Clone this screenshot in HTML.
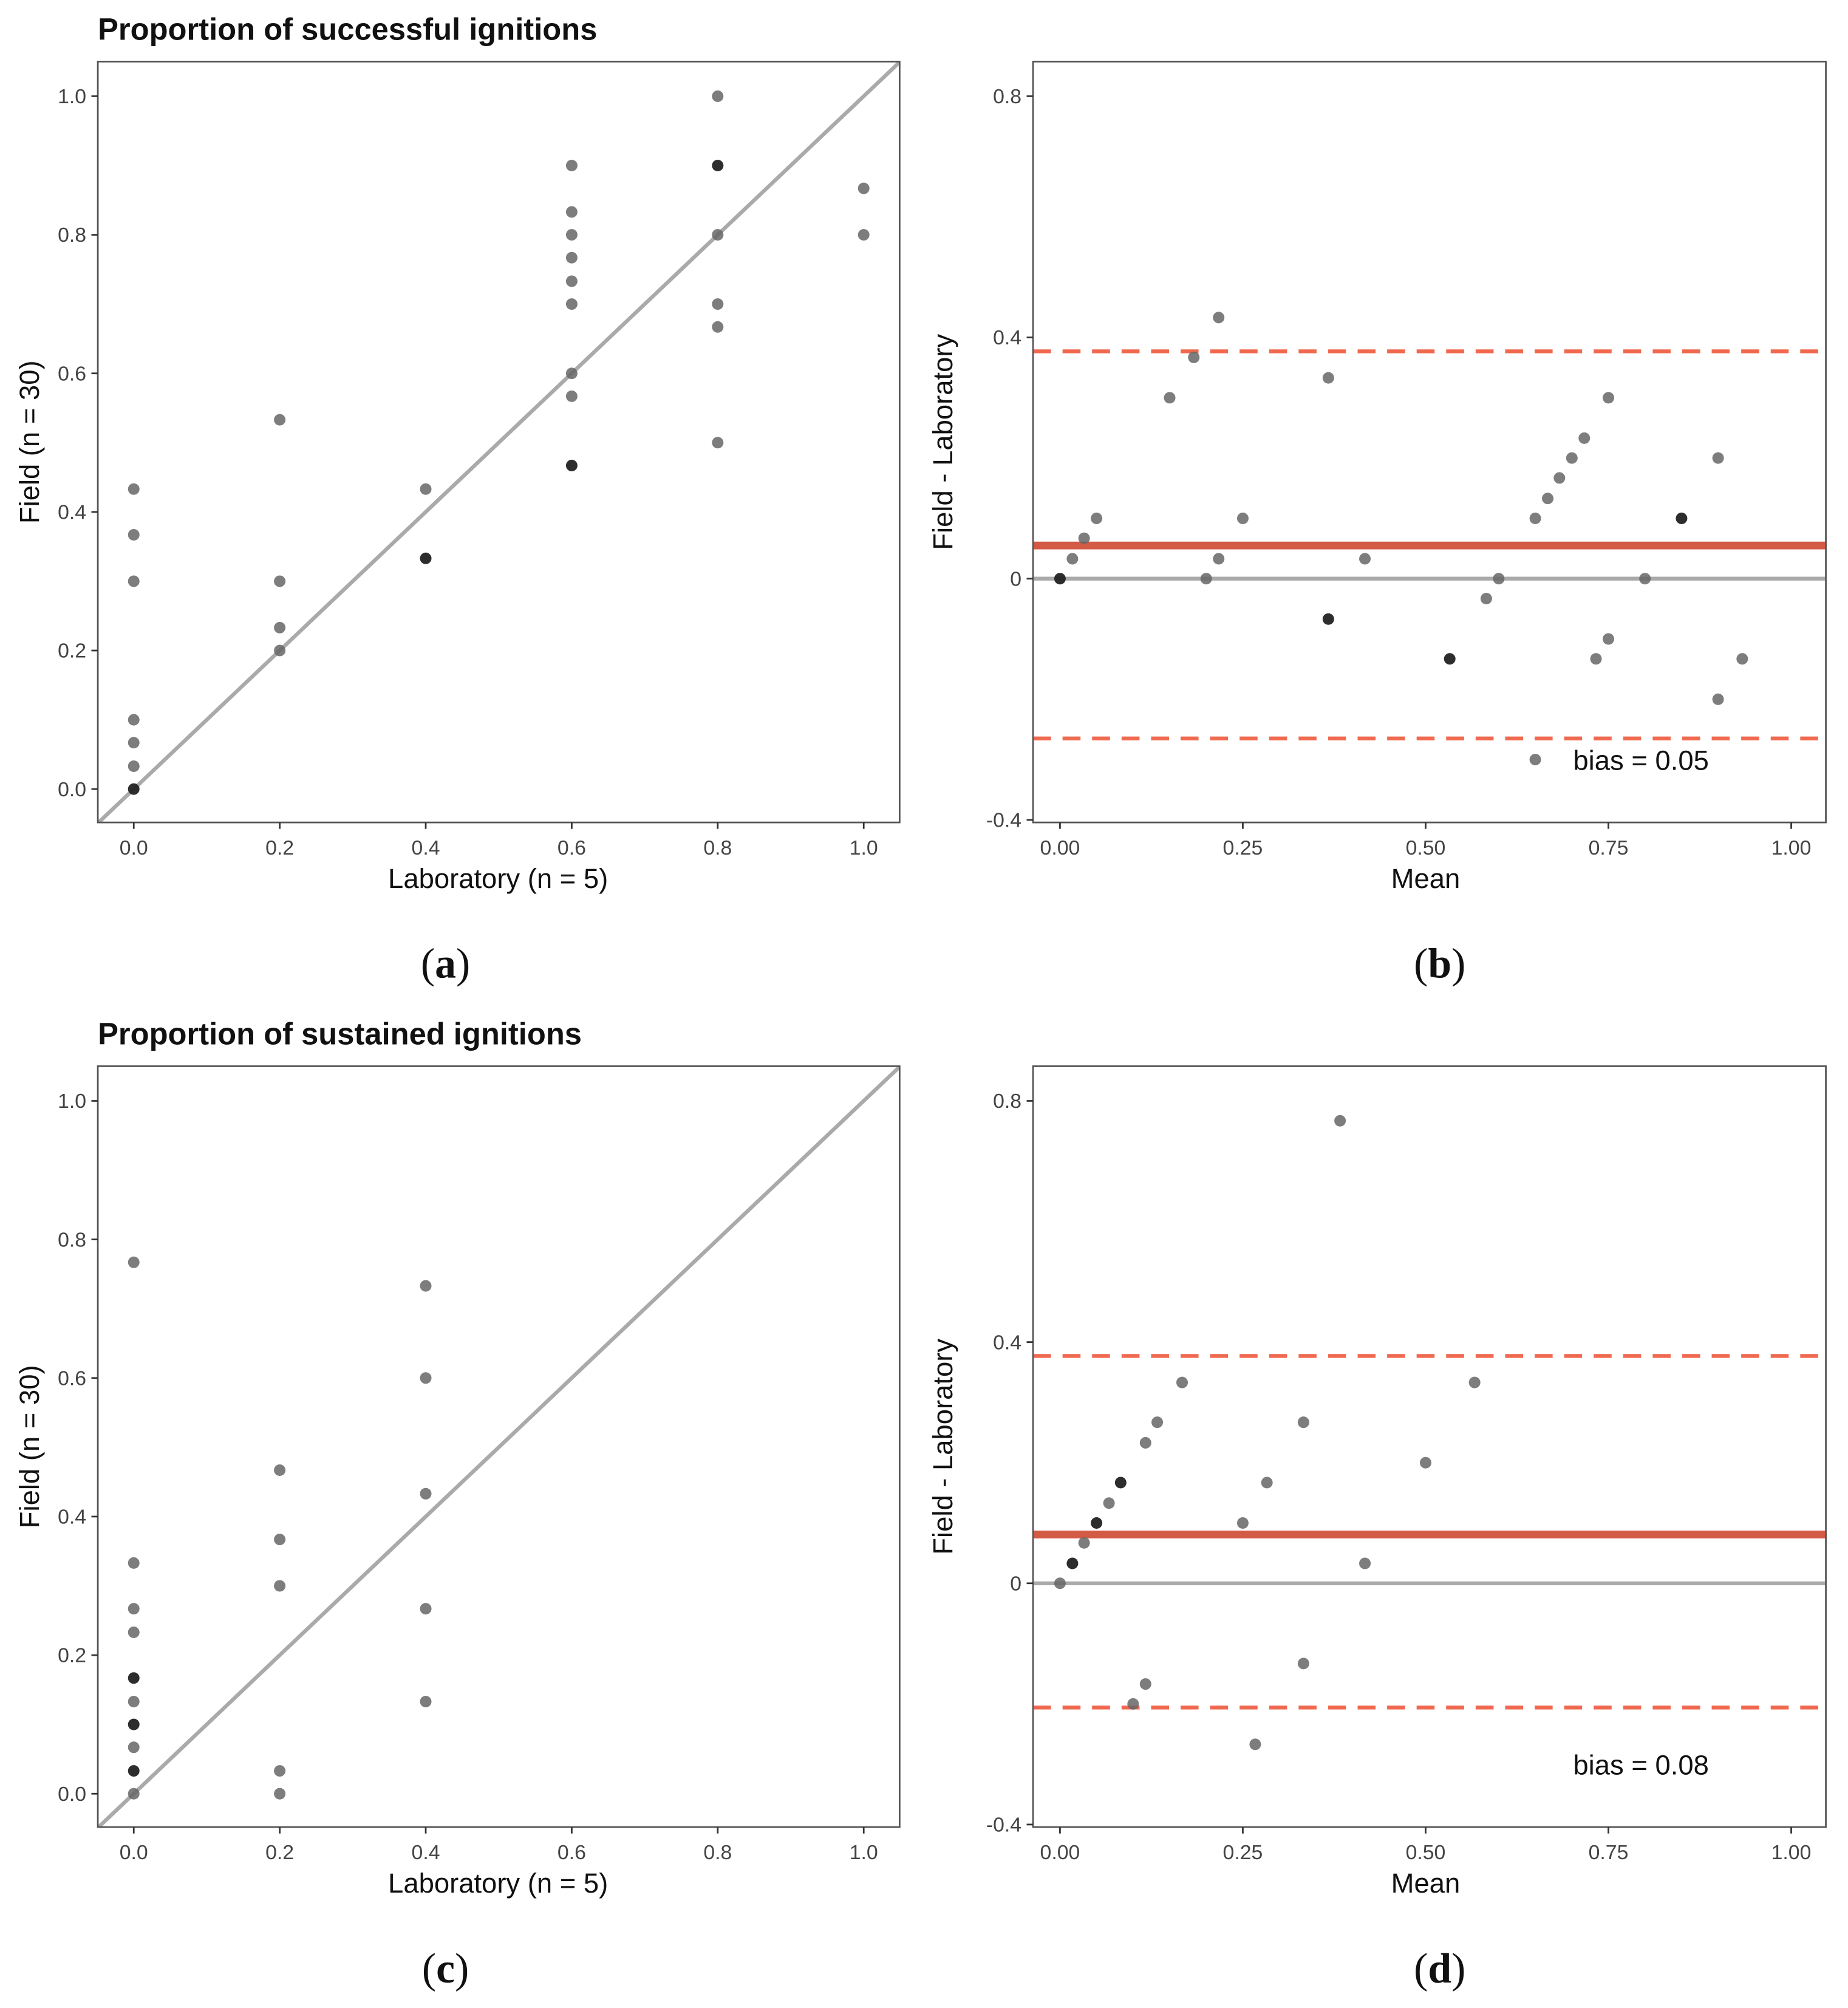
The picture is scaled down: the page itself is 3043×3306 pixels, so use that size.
<!DOCTYPE html>
<html><head><meta charset="utf-8"><style>
html,body{margin:0;padding:0;background:#fff}
svg{display:block}
text{font-family:"Liberation Sans",Arial,sans-serif}
</style></head><body>
<svg id="chart" width="3043" height="3306" viewBox="0 0 1440 1565" xmlns="http://www.w3.org/2000/svg"></svg>
<script>
// Panel a data
const aLab=[0,0,0,0,0,0,0,0.2,0.2,0.2,0.2,0.4,0.4,0.6,0.6,0.6,0.6,0.6,0.6,0.6,0.6,0.6,0.8,0.8,0.8,0.8,0.8,0.8,1.0,1.0];
const aField=[0.433,0.367,0.3,0.1,0.067,0.033,0,0.533,0.3,0.233,0.2,0.433,0.333,0.9,0.833,0.8,0.767,0.733,0.7,0.6,0.567,0.467,1.0,0.9,0.8,0.7,0.667,0.5,0.867,0.8];
const aDark=[0,0,0,0,0,0,1,0,0,0,0,0,1,0,0,0,0,0,0,0,0,1,0,1,0,0,0,0,0,0];
// Panel b data
const bMean=[0,0.017,0.033,0.05,0.15,0.183,0.2,0.217,0.217,0.25,0.367,0.367,0.417,0.533,0.583,0.6,0.65,0.65,0.667,0.683,0.7,0.717,0.733,0.75,0.75,0.8,0.85,0.9,0.9,0.933];
const bDiff=[0,0.033,0.067,0.1,0.3,0.367,0,0.433,0.033,0.1,0.333,-0.067,0.033,-0.133,-0.033,0,0.1,-0.3,0.133,0.167,0.2,0.233,-0.133,0.3,-0.1,0,0.1,0.2,-0.2,-0.133];
const bDark=[1,0,0,0,0,0,0,0,0,0,0,1,0,1,0,0,0,0,0,0,0,0,0,0,0,0,1,0,0,0];
const bStats=[0.055,0.377,-0.265];
const bLabel="bias = 0.05";
// Panel c data
const cLab=[0,0,0,0,0,0,0,0,0,0,0.2,0.2,0.2,0.2,0.2,0.4,0.4,0.4,0.4,0.4];
const cField=[0.767,0.333,0.267,0.233,0.167,0.133,0.1,0.067,0.033,0,0.467,0.367,0.3,0.033,0,0.733,0.6,0.433,0.267,0.133];
const cDark=[0,0,0,0,1,0,1,0,1,0,0,0,0,0,0,0,0,0,0,0];
// Panel d data
const dMean=[0,0.017,0.033,0.05,0.067,0.083,0.1,0.117,0.117,0.133,0.167,0.25,0.267,0.283,0.333,0.333,0.383,0.417,0.5,0.567];
const dDiff=[0,0.033,0.067,0.1,0.133,0.167,-0.2,0.233,-0.167,0.267,0.333,0.1,-0.267,0.167,0.267,-0.133,0.767,0.033,0.2,0.333];
const dDark=[0,1,0,1,0,1,0,0,0,0,0,0,0,0,0,0,0,0,0,0];
const dStats=[0.081,0.377,-0.206];
const dLabel="bias = 0.08";
const scTicks=["0.0","0.2","0.4","0.6","0.8","1.0"];
const baXTicks=["0.00","0.25","0.50","0.75","1.00"];
const baYTicks=["-0.4","0","0.4","0.8"];

const NS="http://www.w3.org/2000/svg";
const svg=document.getElementById('chart');
function mk(tag,attrs,parent,txt){const e=document.createElementNS(NS,tag);for(const k in attrs)e.setAttribute(k,attrs[k]);if(txt!==undefined)e.textContent=txt;(parent||svg).appendChild(e);return e;}

function scatterPanel(oy,title,xs,ys,dark,name){
  const g=mk('g',{});
  
  
  const L=76,R=701,T=48+oy,B=641+oy;
  const sx=v=>104+v*569, sy=v=>615+oy-v*540;
  if(title){const t=mk('text',{x:76,y:31+oy,'font-size':24,'font-weight':'bold',fill:'#111'},g,title);}
  const cid='clip'+name;
  const cp=mk('clipPath',{id:cid},g);mk('rect',{x:L,y:T,width:R-L,height:B-T},cp);
  const ln=mk('line',{x1:sx(-0.1),y1:sy(-0.1),x2:sx(1.1),y2:sy(1.1),stroke:'#aaa','stroke-width':3,'clip-path':`url(#${cid})`},g);
  
  xs.forEach((x,i)=>{const c=mk('circle',{cx:sx(x),cy:sy(ys[i]),r:4.5,fill:dark[i]?'#222':'#666','fill-opacity':dark[i]?0.95:0.85},g);
    });
  const bx=mk('rect',{x:L,y:T,width:R-L,height:B-T,fill:'none',stroke:'#555','stroke-width':1.3},g);
  
  scTicks.forEach(t=>{const v=parseFloat(t);
    mk('line',{x1:sx(v),y1:B,x2:sx(v),y2:B+5,stroke:'#333','stroke-width':1.3},g);
    const tx=mk('text',{x:sx(v),y:B+25,'font-size':16,fill:'#444','text-anchor':'middle'},g,t);
    mk('line',{x1:L-5,y1:sy(v),x2:L,y2:sy(v),stroke:'#333','stroke-width':1.3},g);
    const ty=mk('text',{x:L-9,y:sy(v)+5.5,'font-size':16,fill:'#444','text-anchor':'end'},g,t);
  });
  const xt=mk('text',{x:388,y:B+51,'font-size':21.5,fill:'#111','text-anchor':'middle'},g,'Laboratory (n = 5)');
  const yt=mk('text',{x:0,y:0,'font-size':21.5,fill:'#111','text-anchor':'middle',transform:`translate(30,${(T+B)/2}) rotate(-90)`},g,'Field (n = 30)');
}
function baPanel(oy,xs,ys,dark,stats,label,name){
  const g=mk('g',{});
  
  
  const L=805,R=1423,T=48+oy,B=641+oy;
  const sx=v=>826+v*570, sy=v=>451+oy-v*470;
  const z=mk('line',{x1:L,y1:sy(0),x2:R,y2:sy(0),stroke:'#aaa','stroke-width':3},g);
  const bl=mk('line',{x1:L,y1:sy(stats[0]),x2:R,y2:sy(stats[0]),stroke:'#d35a44','stroke-width':6},g);
  [stats[1],stats[2]].forEach(v=>{const d=mk('line',{x1:L,y1:sy(v),x2:R,y2:sy(v),stroke:'#f0694f','stroke-width':3,'stroke-dasharray':'14 9'},g);});
  xs.forEach((x,i)=>{const c=mk('circle',{cx:sx(x),cy:sy(ys[i]),r:4.5,fill:dark[i]?'#222':'#666','fill-opacity':dark[i]?0.95:0.85},g);
    });
  const bx=mk('rect',{x:L,y:T,width:R-L,height:B-T,fill:'none',stroke:'#555','stroke-width':1.3},g);
  
  baXTicks.forEach(t=>{const v=parseFloat(t);
    mk('line',{x1:sx(v),y1:B,x2:sx(v),y2:B+5,stroke:'#333','stroke-width':1.3},g);
    const tx=mk('text',{x:sx(v),y:B+25,'font-size':16,fill:'#444','text-anchor':'middle'},g,t);});
  baYTicks.forEach(t=>{const v=parseFloat(t);
    mk('line',{x1:L-5,y1:sy(v),x2:L,y2:sy(v),stroke:'#333','stroke-width':1.3},g);
    const ty=mk('text',{x:L-9,y:sy(v)+5.5,'font-size':16,fill:'#444','text-anchor':'end'},g,t);});
  const bt=mk('text',{x:1226,y:600+oy,'font-size':21.5,fill:'#111'},g,label);
  const xt=mk('text',{x:1111,y:B+51,'font-size':21.5,fill:'#111','text-anchor':'middle'},g,'Mean');
  const yt=mk('text',{x:0,y:0,'font-size':21.5,fill:'#111','text-anchor':'middle',transform:`translate(742,${(T+B)/2}) rotate(-90)`},g,'Field - Laboratory');
}
scatterPanel(0,'Proportion of successful ignitions',aLab,aField,aDark,'panel-a');
baPanel(0,bMean,bDiff,bDark,bStats,bLabel,'panel-b');
scatterPanel(783,'Proportion of sustained ignitions',cLab,cField,cDark,'panel-c');
baPanel(783,dMean,dDiff,dDark,dStats,dLabel,'panel-d');
[['(a)',347,762],['(b)',1122,762],['(c)',347,1545],['(d)',1122,1545]].forEach(p=>{
  const t=mk('text',{x:p[1],y:p[2],'font-size':33,fill:'#111','text-anchor':'middle','style':'font-family:"Liberation Serif",serif'},svg,'');
  
  mk('tspan',{},t,'(');mk('tspan',{'font-weight':'bold'},t,p[0][1]);mk('tspan',{},t,')');
});
</script>
</body></html>
